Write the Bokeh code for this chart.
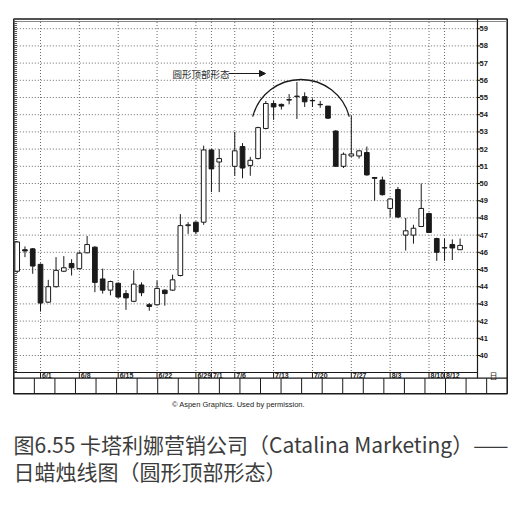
import numpy as np
from bokeh.plotting import figure
from bokeh.models import Range1d, Arrow, NormalHead
from bokeh.core.properties import value
from bokeh.embed import file_html
from bokeh.resources import INLINE

# ---------------- data ----------------
dates = ["1998-05-27", "1998-05-28", "1998-05-29",
         "1998-06-01", "1998-06-02", "1998-06-03", "1998-06-04", "1998-06-05",
         "1998-06-08", "1998-06-09", "1998-06-10", "1998-06-11", "1998-06-12",
         "1998-06-15", "1998-06-16", "1998-06-17", "1998-06-18", "1998-06-19",
         "1998-06-22", "1998-06-23", "1998-06-24", "1998-06-25", "1998-06-26",
         "1998-06-29", "1998-06-30", "1998-07-01", "1998-07-02",
         "1998-07-06", "1998-07-07", "1998-07-08", "1998-07-09", "1998-07-10",
         "1998-07-13", "1998-07-14", "1998-07-15", "1998-07-16", "1998-07-17",
         "1998-07-20", "1998-07-21", "1998-07-22", "1998-07-23", "1998-07-24",
         "1998-07-27", "1998-07-28", "1998-07-29", "1998-07-30", "1998-07-31",
         "1998-08-03", "1998-08-04", "1998-08-05", "1998-08-06", "1998-08-07",
         "1998-08-10", "1998-08-11", "1998-08-12", "1998-08-13", "1998-08-14"]
opens = [44.9, 46.15, 46.2,
         45.3, 43.1, 44.0, 44.9, 45.35,
         45.05, 45.97, 46.3, 44.45, 43.8,
         44.2, 43.6, 43.15, 44.1, 42.95,
         42.95, 43.8, 43.8, 44.65, 47.55,
         47.75, 47.75, 51.95, 51.25,
         51.0, 52.15, 51.05, 51.45, 53.2,
         54.65, 54.6, 54.85, 55.05, 55.05,
         54.83, 54.6, 54.5, 53.05, 51.0,
         51.6, 51.6, 51.8, 50.35, 50.2,
         48.55, 49.65, 47.0, 47.0, 47.5,
         48.25, 46.8, 46.25, 46.45, 46.15]
highs = [46.65, 46.34, 46.25,
         45.35, 44.4, 45.72, 45.78, 45.6,
         46.05, 46.95, 46.35, 45.05, 44.35,
         44.25, 43.8, 44.95, 44.25, 43.05,
         44.35, 43.85, 44.7, 48.22, 47.75,
         47.8, 52.2, 52.0, 52.0,
         53.0, 52.35, 51.55, 53.3, 54.8,
         54.8, 54.65, 55.2, 55.9, 55.3,
         54.95, 54.8, 54.5, 53.1, 51.8,
         53.95, 51.9, 52.15, 50.35, 50.4,
         49.15, 49.8, 48.0, 47.6, 50.0,
         48.3, 46.85, 46.8, 46.75, 46.8]
lows = [44.8, 45.72, 44.75,
        42.55, 43.05, 43.95, 44.85, 44.65,
        45.0, 45.95, 43.68, 43.6, 43.5,
        43.35, 42.65, 43.1, 43.45, 42.6,
        42.9, 42.9, 43.75, 44.6, 47.07,
        47.05, 47.6, 49.5, 49.5,
        50.45, 50.3, 50.45, 51.4, 53.15,
        53.7, 54.3, 54.6, 53.75, 54.45,
        54.45, 54.4, 53.75, 50.98, 50.9,
        51.55, 51.45, 50.45, 49.0, 49.3,
        48.05, 48.0, 46.1, 46.5, 47.5,
        47.15, 45.5, 45.5, 45.55, 46.15]
closes = [46.6, 46.08, 45.2,
          43.05, 44.0, 44.95, 45.1, 45.1,
          45.95, 46.45, 44.25, 43.8, 44.3,
          43.4, 43.35, 44.15, 43.65, 42.85,
          43.9, 43.6, 44.4, 47.55, 47.6,
          47.2, 51.95, 50.85, 51.45,
          51.9, 50.9, 51.35, 53.25, 54.65,
          54.45, 54.5, 54.88, 55.08, 54.75,
          54.81, 54.58, 53.8, 51.0, 51.7,
          51.72, 51.9, 50.5, 50.3, 49.35,
          49.1, 48.05, 47.25, 47.4, 48.55,
          47.15, 46.0, 46.27, 46.25, 46.4]

tick_dates = ["1998-06-01", "1998-06-08", "1998-06-15", "1998-06-22", "1998-06-29",
              "1998-07-01", "1998-07-06", "1998-07-13", "1998-07-20", "1998-07-27",
              "1998-08-03", "1998-08-10", "1998-08-12"]
tick_labels = ["6/1", "6/8", "6/15", "6/22", "6/29", "7/1", "7/6", "7/13",
               "7/20", "7/27", "8/3", "8/10", "8/12"]
price_ticks = list(range(40, 60))

pattern_label = "圆形顶部形态"
credit = "© Aspen Graphics. Used by permission."
caption_line1 = "图6.55 卡塔利娜营销公司（Catalina Marketing）——"
caption_line2 = "日蜡烛线图（圆形顶部形态）"

# ---------------- geometry ----------------
W, H = 520, 505
X0_PX, PX_PER_DAY = 40.0, 7.77      # pixel of 6/1 slot, pixels per trading slot
Y40_PX, PX_PER_PT = 355.0, 17.2     # pixel of price 40, pixels per point
INK = "#1a1a1a"
GRID = "#6a6a6a"


def slot(d):
    return int(np.busday_count("1998-06-01", d))


xs = [slot(d) for d in dates]
tick_x = [slot(d) for d in tick_dates]

p = figure(width=W, height=H, output_backend="svg", toolbar_location=None,
           x_range=Range1d(-X0_PX / PX_PER_DAY, (W - X0_PX) / PX_PER_DAY),
           y_range=Range1d(40 - (H - Y40_PX) / PX_PER_PT, 40 + Y40_PX / PX_PER_PT),
           x_axis_location=None, y_axis_location=None, min_border=0)
p.extra_x_ranges = {"px": Range1d(0, W)}
p.extra_y_ranges = {"px": Range1d(H, 0)}
p.grid.visible = False
p.outline_line_color = None
p.background_fill_color = "white"
p.border_fill_color = "white"

L, R, T, B = 13.3, 477.0, 18.5, 372.0      # inner plot box (px)
OR, OB = 506.7, 393.3                      # outer frame right / bottom (px)
BAND = 377.7                               # bottom of date band (px)

# grid: horizontal at every price, vertical at each dated slot
p.segment(x0=L, x1=R, y0=price_ticks, y1=price_ticks, x_range_name="px",
          line_color=GRID, line_width=1, line_dash="1 2")
p.segment(x0=tick_x, x1=tick_x, y0=T, y1=B, y_range_name="px",
          line_color=GRID, line_width=1, line_dash="1 2")
p.segment(x0=tick_x, x1=tick_x, y0=B, y1=BAND, y_range_name="px",
          line_color=INK, line_width=1)

# frame pieces
p.quad(left=L, right=OR, top=T, bottom=OB, x_range_name="px", y_range_name="px",
       fill_color=None, line_color=INK, line_width=1.5)
p.segment(x0=L, x1=OR, y0=T + 2.5, y1=T + 2.5, x_range_name="px", y_range_name="px",
          line_color="#888888", line_width=1)
p.segment(x0=L + 1.8, x1=L + 1.8, y0=T, y1=B, x_range_name="px", y_range_name="px",
          line_color="#555555", line_width=3, line_dash="1 1")
p.segment(x0=R, x1=R, y0=T, y1=BAND, x_range_name="px", y_range_name="px",
          line_color=INK, line_width=1.2)
p.segment(x0=R, x1=R + 2.5, y0=price_ticks, y1=price_ticks, x_range_name="px",
          line_color=INK, line_width=1)
p.segment(x0=L, x1=R, y0=B, y1=B, x_range_name="px", y_range_name="px",
          line_color=INK, line_width=1.2)
p.segment(x0=L, x1=OR, y0=BAND, y1=BAND, x_range_name="px", y_range_name="px",
          line_color=INK, line_width=1.2)
box_x = np.linspace(L, OR, 25)[1:-1]
p.segment(x0=box_x, x1=box_x, y0=BAND, y1=OB, x_range_name="px", y_range_name="px",
          line_color=INK, line_width=1)

# axis labels
p.text(x=R + 2, y=price_ticks, text=[str(v) for v in price_ticks], x_range_name="px",
       text_font=value("Liberation Sans"), text_font_size="7.5px", text_font_style="bold",
       text_color=INK, text_align="left", text_baseline="middle")
p.text(x=tick_x, y=BAND - 2.6, text=tick_labels, y_range_name="px", x_offset=1.5,
       text_font=value("Liberation Sans"), text_font_size="7px", text_font_style="bold",
       text_color=INK, text_align="left", text_baseline="middle")
p.text(x=[493], y=[BAND - 3], text=["日"], x_range_name="px", y_range_name="px",
       text_font=value("Noto Sans CJK SC"), text_font_size="8px",
       text_color=INK, text_align="center", text_baseline="middle")

# candles
p.segment(x0=xs, x1=xs, y0=highs, y1=lows, line_color=INK, line_width=1)
up_x = [x for x, o, c in zip(xs, opens, closes) if c >= o]
up_t = [c for o, c in zip(opens, closes) if c >= o]
up_b = [o for o, c in zip(opens, closes) if c >= o]
dn_x = [x for x, o, c in zip(xs, opens, closes) if c < o]
dn_t = [o for o, c in zip(opens, closes) if c < o]
dn_b = [c for o, c in zip(opens, closes) if c < o]
p.vbar(x=up_x, top=up_t, bottom=up_b, width=0.6, fill_color="white",
       line_color=INK, line_width=1)
p.vbar(x=dn_x, top=dn_t, bottom=dn_b, width=0.6, fill_color=INK,
       line_color=INK, line_width=1)

# rounding-top arc and its label
arc_cx = (300.5 - X0_PX) / PX_PER_DAY
arc_cy = 40 + (Y40_PX - 129.0) / PX_PER_PT
p.arc(x=[arc_cx], y=[arc_cy], radius=50, radius_units="screen",
      start_angle=np.radians(15), end_angle=np.radians(165),
      line_color=INK, line_width=1.3)
p.text(x=[172], y=[73], text=[pattern_label], x_range_name="px", y_range_name="px",
       text_font=value("Noto Sans CJK SC"), text_font_size="9.5px",
       text_color="#2a2a2a", text_align="left", text_baseline="middle")
p.add_layout(Arrow(end=NormalHead(size=6, fill_color=INK, line_color=INK),
                   x_start=228, y_start=73, x_end=265, y_end=73,
                   x_range_name="px", y_range_name="px",
                   line_color=INK, line_width=1))

# credit and caption
p.text(x=[238], y=[403.5], text=[credit], x_range_name="px", y_range_name="px",
       text_font=value("Liberation Sans"), text_font_size="7.5px",
       text_color="#222222", text_align="center", text_baseline="middle")
p.text(x=[13, 13], y=[443.5, 470], text=[caption_line1, caption_line2],
       x_range_name="px", y_range_name="px",
       text_font=value("Noto Sans CJK SC"), text_font_size="21px",
       text_color="#3c3c3c", text_align="left", text_baseline="middle")

open("out.html", "w").write(file_html(p, INLINE))
